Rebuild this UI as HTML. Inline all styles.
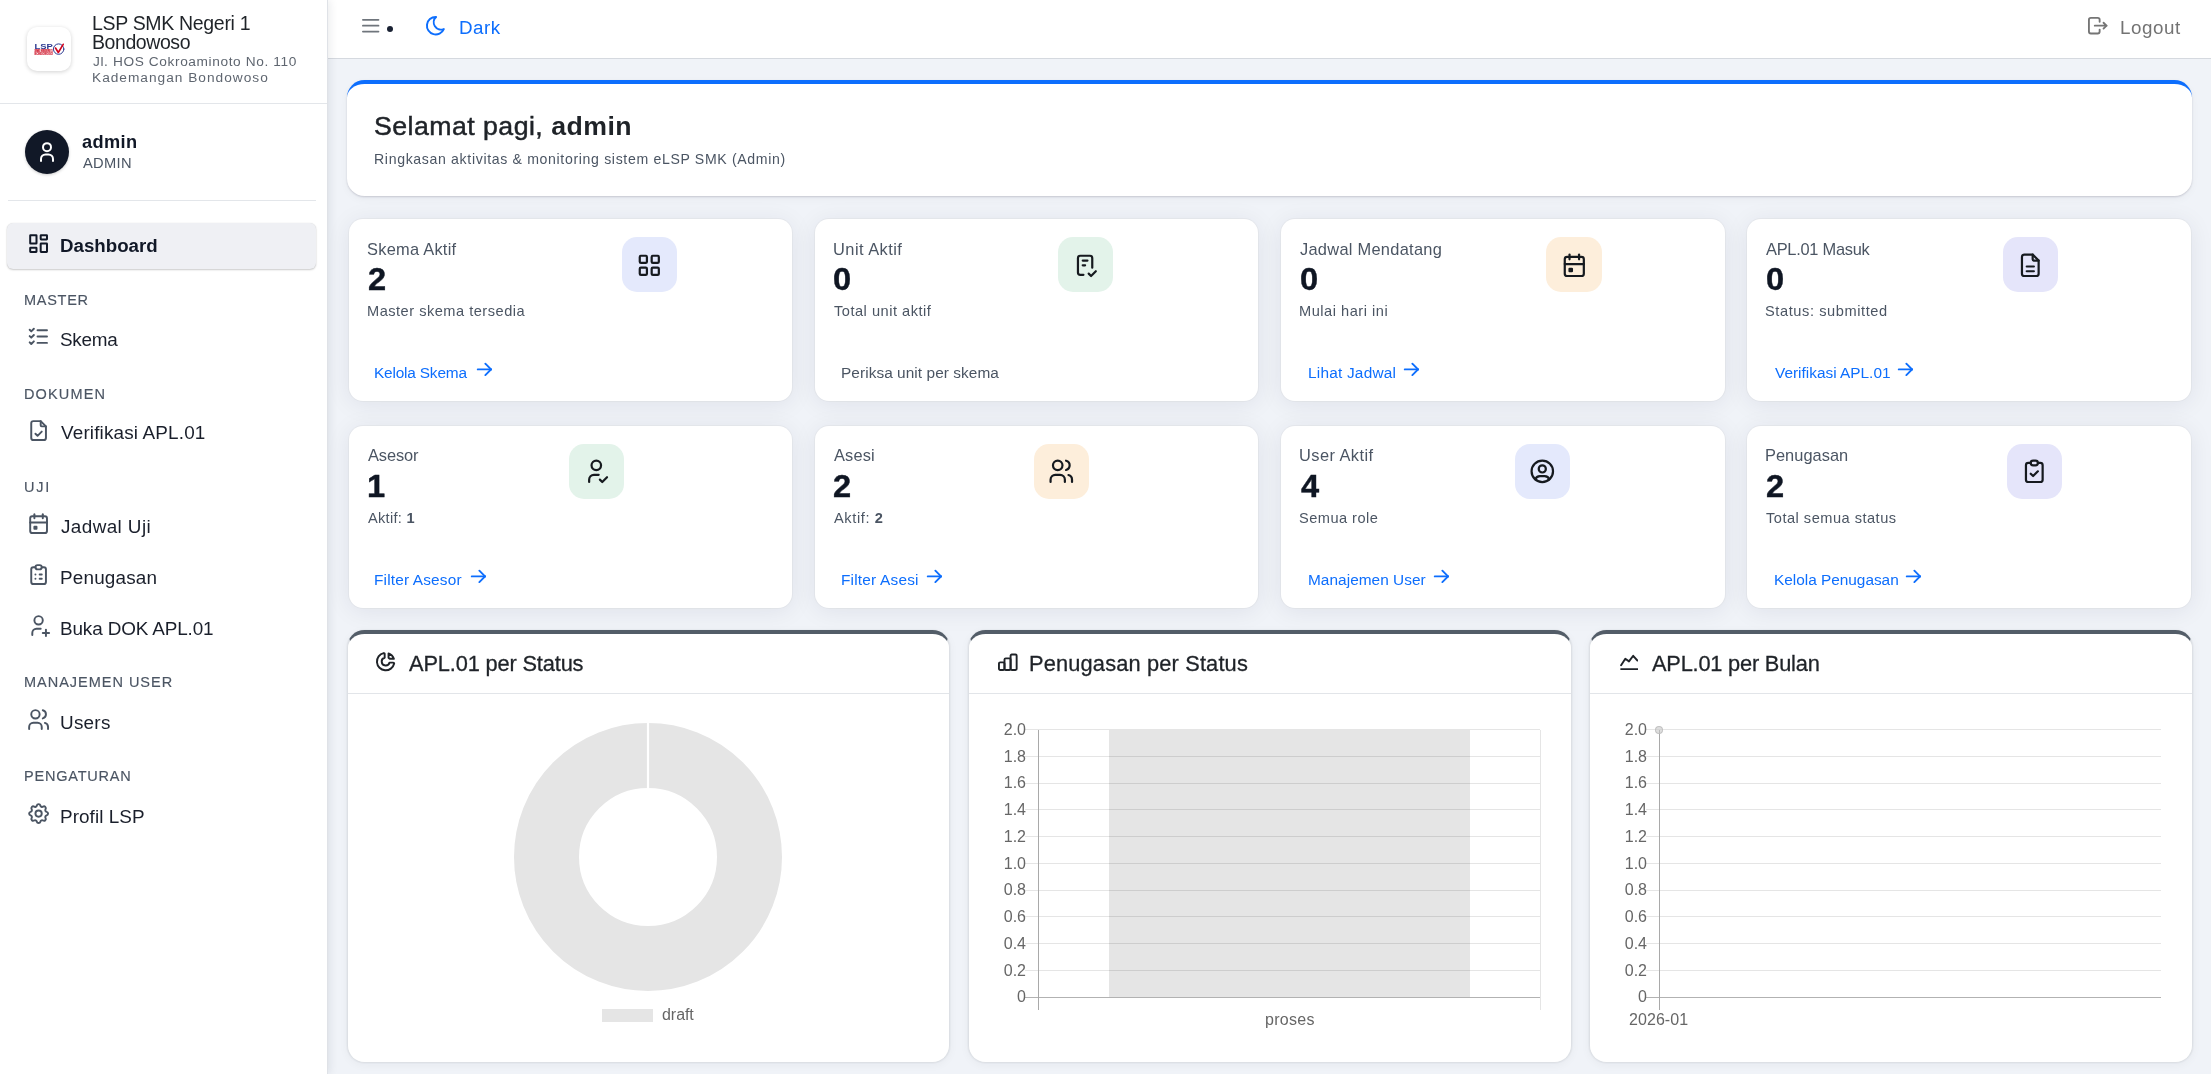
<!DOCTYPE html>
<html><head><meta charset="utf-8">
<style>
*{box-sizing:border-box;margin:0;padding:0}
html,body{width:2211px;height:1074px;overflow:hidden}
body{font-family:"Liberation Sans",sans-serif;background:#f0f3f8;position:relative;color:#1f2328}
.abs{position:absolute}
.t{position:absolute;white-space:nowrap;line-height:1;z-index:10;will-change:transform}
.card{position:absolute;background:#fff;box-shadow:0 2px 10px rgba(20,30,50,.045),0 0 0 1px rgba(20,30,50,.025)}
</style></head>
<body>
<div class="abs" style="left:0px;top:0px;width:328px;height:1074px;background:#fff;border-right:1px solid #dfe2e7;box-shadow:1px 0 9px rgba(20,30,50,.10);z-index:5"></div>
<div class="abs" style="left:327px;top:0px;width:1884px;height:59px;background:#fff;border-bottom:1px solid #d5d9df;z-index:2"></div>
<div class="abs" style="left:27px;top:27px;width:44px;height:44px;border-radius:10px;background:#fff;box-shadow:0 1px 4px rgba(0,0,0,.18);z-index:6"></div>
<svg class="abs" style="left:27.00px;top:27.00px;z-index:10;will-change:transform" width="44" height="44" viewBox="0 0 44 44" fill="none" stroke="#1f2328" stroke-width="1" stroke-linecap="round" stroke-linejoin="round" ><text x="7.5" y="21.6" font-family="Liberation Sans" font-weight="bold" font-size="6.6" fill="#2b3990" stroke="none" textLength="18.4" lengthAdjust="spacingAndGlyphs">LSP</text><text x="7.5" y="24.9" font-family="Liberation Sans" font-weight="bold" font-size="2.9" fill="#d22a3c" stroke="#d22a3c" stroke-width="0.25" textLength="18.2" lengthAdjust="spacingAndGlyphs">SMK NEGERI 1</text><text x="7.5" y="27.7" font-family="Liberation Sans" font-weight="bold" font-size="2.9" fill="#d43446" stroke="#d43446" stroke-width="0.2" textLength="18.2" lengthAdjust="spacingAndGlyphs">BONDOWOSO</text><circle cx="31.65" cy="22.1" r="5.2" stroke="#2b3990" stroke-width="1"/><path d="M28.5 21l2.8 4.5l4.9 -8.2" stroke="#d0021b" stroke-width="1.6"/></svg>
<div class="abs" style="left:0px;top:103px;width:327px;height:1px;background:#e3e6ea;z-index:6"></div>
<div class="abs" style="left:25px;top:130px;width:44px;height:44px;border-radius:50%;background:#111827;box-shadow:0 1px 3px rgba(0,0,0,.2);z-index:6"></div>
<svg class="abs" style="left:25.00px;top:130.00px;z-index:10" width="45" height="45" viewBox="0 0 45 45" fill="none" stroke="#fff" stroke-width="2" stroke-linecap="round" stroke-linejoin="round" ><circle cx="22" cy="17.15" r="4"/><path d="M16 31v-2a4.5 4.5 0 0 1 4.5 -4.5h3a4.5 4.5 0 0 1 4.5 4.5v2"/></svg>
<div class="abs" style="left:8px;top:200px;width:308px;height:1px;background:#e3e6ea;z-index:6"></div>
<div class="abs" style="left:7px;top:223px;width:309px;height:46px;border-radius:6px;background:#eff0f4;box-shadow:0 1px 2px rgba(0,0,0,.2),0 0 1px rgba(0,0,0,.12);z-index:6"></div>
<div id="Tb1" class="t" style="left:92.10px;top:13.79px;font-size:19.5px;color:#1f2328;font-weight:normal;letter-spacing:-0.319px;">LSP SMK Negeri 1</div>
<div id="Tb2" class="t" style="left:92.10px;top:32.99px;font-size:19.5px;color:#1f2328;font-weight:normal;letter-spacing:-0.425px;">Bondowoso</div>
<div id="Tb3" class="t" style="left:93.10px;top:54.90px;font-size:13.7px;color:#5f6670;font-weight:normal;letter-spacing:0.607px;">Jl. HOS Cokroaminoto No. 110</div>
<div id="Tb4" class="t" style="left:92.10px;top:70.50px;font-size:13.7px;color:#5f6670;font-weight:normal;letter-spacing:1.000px;">Kademangan Bondowoso</div>
<div id="Tu1" class="t" style="left:82.30px;top:132.59px;font-size:18.2px;color:#111827;font-weight:bold;letter-spacing:0.400px;">admin</div>
<div id="Tu2" class="t" style="left:82.90px;top:156.06px;font-size:14.7px;color:#4b5563;font-weight:normal;letter-spacing:0.300px;">ADMIN</div>
<div id="Tn0" class="t" style="left:60.00px;top:236.87px;font-size:18.7px;color:#111827;font-weight:bold;letter-spacing:0.004px;">Dashboard</div>
<svg class="abs" style="left:25.75px;top:230.60px;z-index:10" width="25.2" height="25.2" viewBox="0 0 24 24" fill="none" stroke="#111827" stroke-width="1.9" stroke-linecap="round" stroke-linejoin="round" ><rect x="4" y="4" width="6" height="8" rx="0.35"/><rect x="4" y="16" width="6" height="4" rx="0.35"/><rect x="14" y="12" width="6" height="8" rx="0.35"/><rect x="14" y="4" width="6" height="4" rx="0.35"/></svg>
<div id="Ts0" class="t" style="left:23.60px;top:292.63px;font-size:14.5px;color:#4b5563;font-weight:normal;letter-spacing:0.720px;-webkit-text-stroke:0.15px #4b5563">MASTER</div>
<div id="Tn2" class="t" style="left:59.90px;top:330.60px;font-size:18.9px;color:#1a1f2b;font-weight:normal;letter-spacing:-0.250px;">Skema</div>
<svg class="abs" style="left:25.75px;top:323.90px;z-index:10" width="25.2" height="25.2" viewBox="0 0 24 24" fill="none" stroke="#4b5563" stroke-width="1.85" stroke-linecap="round" stroke-linejoin="round" ><path d="M3.5 5.5l1.5 1.5l2.5 -2.5"/><path d="M3.5 11.5l1.5 1.5l2.5 -2.5"/><path d="M3.5 17.5l1.5 1.5l2.5 -2.5"/><path d="M11 6l9 0"/><path d="M11 12l9 0"/><path d="M11 18l9 0"/></svg>
<div id="Ts2" class="t" style="left:23.60px;top:387.23px;font-size:14.5px;color:#4b5563;font-weight:normal;letter-spacing:1.134px;-webkit-text-stroke:0.15px #4b5563">DOKUMEN</div>
<div id="Tn4" class="t" style="left:61.00px;top:424.40px;font-size:18.9px;color:#1a1f2b;font-weight:normal;letter-spacing:0.162px;">Verifikasi APL.01</div>
<svg class="abs" style="left:25.75px;top:417.70px;z-index:10" width="25.2" height="25.2" viewBox="0 0 24 24" fill="none" stroke="#4b5563" stroke-width="1.85" stroke-linecap="round" stroke-linejoin="round" ><path d="M14 3v4a1 1 0 0 0 1 1h4"/><path d="M17 21h-10a2 2 0 0 1 -2 -2v-14a2 2 0 0 1 2 -2h7l5 5v11a2 2 0 0 1 -2 2z"/><path d="M9 15l2 2l4 -4"/></svg>
<div id="Ts4" class="t" style="left:23.60px;top:480.43px;font-size:14.5px;color:#4b5563;font-weight:normal;letter-spacing:1.800px;-webkit-text-stroke:0.15px #4b5563">UJI</div>
<div id="Tn6" class="t" style="left:61.00px;top:517.70px;font-size:18.9px;color:#1a1f2b;font-weight:normal;letter-spacing:0.399px;">Jadwal Uji</div>
<svg class="abs" style="left:25.75px;top:511.00px;z-index:10" width="25.2" height="25.2" viewBox="0 0 24 24" fill="none" stroke="#4b5563" stroke-width="1.85" stroke-linecap="round" stroke-linejoin="round" ><path d="M4 7a2 2 0 0 1 2 -2h12a2 2 0 0 1 2 2v12a2 2 0 0 1 -2 2h-12a2 2 0 0 1 -2 -2z"/><path d="M16 3l0 4"/><path d="M8 3l0 4"/><path d="M4 11l16 0"/><path d="M8 15h2v2h-2z"/></svg>
<div id="Tn7" class="t" style="left:60.00px;top:569.00px;font-size:18.9px;color:#1a1f2b;font-weight:normal;letter-spacing:0.179px;">Penugasan</div>
<svg class="abs" style="left:25.75px;top:562.30px;z-index:10" width="25.2" height="25.2" viewBox="0 0 24 24" fill="none" stroke="#4b5563" stroke-width="1.85" stroke-linecap="round" stroke-linejoin="round" ><path d="M9 5h-2a2 2 0 0 0 -2 2v12a2 2 0 0 0 2 2h10a2 2 0 0 0 2 -2v-12a2 2 0 0 0 -2 -2h-2"/><path d="M9 5a2 2 0 0 1 2 -2h2a2 2 0 0 1 2 2v0a2 2 0 0 1 -2 2h-2a2 2 0 0 1 -2 -2z"/><path d="M9 12l.01 0"/><path d="M13 12l2 0"/><path d="M9 16l.01 0"/><path d="M13 16l2 0"/></svg>
<div id="Tn8" class="t" style="left:60.00px;top:620.00px;font-size:18.9px;color:#1a1f2b;font-weight:normal;letter-spacing:-0.128px;">Buka DOK APL.01</div>
<svg class="abs" style="left:25.75px;top:613.30px;z-index:10" width="25.2" height="25.2" viewBox="0 0 24 24" fill="none" stroke="#4b5563" stroke-width="1.85" stroke-linecap="round" stroke-linejoin="round" ><path d="M8 7a4 4 0 1 0 8 0a4 4 0 0 0 -8 0"/><path d="M16 19h6"/><path d="M19 16v6"/><path d="M6 21v-2a4 4 0 0 1 4 -4h4"/></svg>
<div id="Ts8" class="t" style="left:23.60px;top:674.93px;font-size:14.5px;color:#4b5563;font-weight:normal;letter-spacing:0.984px;-webkit-text-stroke:0.15px #4b5563">MANAJEMEN USER</div>
<div id="Tn10" class="t" style="left:60.00px;top:713.80px;font-size:18.9px;color:#1a1f2b;font-weight:normal;letter-spacing:0.250px;">Users</div>
<svg class="abs" style="left:25.75px;top:707.10px;z-index:10" width="25.2" height="25.2" viewBox="0 0 24 24" fill="none" stroke="#4b5563" stroke-width="1.85" stroke-linecap="round" stroke-linejoin="round" ><path d="M5 7a4 4 0 1 0 8 0a4 4 0 1 0 -8 0"/><path d="M3 21v-2a4 4 0 0 1 4 -4h4a4 4 0 0 1 4 4v2"/><path d="M16 3.13a4 4 0 0 1 0 7.75"/><path d="M21 21v-2a4 4 0 0 0 -3 -3.85"/></svg>
<div id="Ts10" class="t" style="left:23.60px;top:768.53px;font-size:14.5px;color:#4b5563;font-weight:normal;letter-spacing:0.798px;-webkit-text-stroke:0.15px #4b5563">PENGATURAN</div>
<div id="Tn12" class="t" style="left:60.00px;top:807.70px;font-size:18.9px;color:#1a1f2b;font-weight:normal;letter-spacing:0.065px;">Profil LSP</div>
<svg class="abs" style="left:25.75px;top:801.00px;z-index:10" width="25.2" height="25.2" viewBox="0 0 24 24" fill="none" stroke="#4b5563" stroke-width="1.85" stroke-linecap="round" stroke-linejoin="round" ><path d="M10.325 4.317c.426 -1.756 2.924 -1.756 3.35 0a1.724 1.724 0 0 0 2.573 1.066c1.543 -.94 3.31 .826 2.37 2.37a1.724 1.724 0 0 0 1.065 2.572c1.756 .426 1.756 2.924 0 3.35a1.724 1.724 0 0 0 -1.066 2.573c.94 1.543 -.826 3.31 -2.37 2.37a1.724 1.724 0 0 0 -2.572 1.065c-.426 1.756 -2.924 1.756 -3.35 0a1.724 1.724 0 0 0 -2.573 -1.066c-1.543 .94 -3.31 -.826 -2.37 -2.37a1.724 1.724 0 0 0 -1.065 -2.572c-1.756 -.426 -1.756 -2.924 0 -3.35a1.724 1.724 0 0 0 1.066 -2.573c-.94 -1.543 .826 -3.31 2.37 -2.37c1 .608 2.296 .07 2.572 -1.065z"/><path d="M9 12a3 3 0 1 0 6 0a3 3 0 0 0 -6 0"/></svg>
<svg class="abs" style="left:359.00px;top:13.65px;z-index:10" width="23.4" height="23.4" viewBox="0 0 24 24" fill="none" stroke="#6f757c" stroke-width="1.8" stroke-linecap="round" stroke-linejoin="round" ><path d="M4 6l16 0"/><path d="M4 12l16 0"/><path d="M4 18l16 0"/></svg>
<div class="abs" style="left:386.8px;top:25.6px;width:6px;height:6px;border-radius:50%;background:#1a2233;z-index:3"></div>
<svg class="abs" style="left:424.45px;top:13.75px;z-index:10" width="23.4" height="23.4" viewBox="0 0 24 24" fill="none" stroke="#0d6efd" stroke-width="2" stroke-linecap="round" stroke-linejoin="round" ><path d="M12 3c.132 0 .263 0 .393 0a7.5 7.5 0 0 0 7.92 12.446a9 9 0 1 1 -8.313 -12.454z"/></svg>
<div id="Th1" class="t" style="left:458.50px;top:19.09px;font-size:18.8px;color:#0d6efd;font-weight:normal;letter-spacing:0.466px;">Dark</div>
<svg class="abs" style="left:2086.35px;top:13.90px;z-index:10" width="23.4" height="23.4" viewBox="0 0 24 24" fill="none" stroke="#757575" stroke-width="1.9" stroke-linecap="round" stroke-linejoin="round" ><path d="M14 8v-2a2 2 0 0 0 -2 -2h-7a2 2 0 0 0 -2 2v12a2 2 0 0 0 2 2h7a2 2 0 0 0 2 -2v-2"/><path d="M9 12h12l-3 -3"/><path d="M18 15l3 -3"/></svg>
<div id="Th2" class="t" style="left:2120.30px;top:19.09px;font-size:18.8px;color:#737373;font-weight:normal;letter-spacing:0.560px;">Logout</div>
<div class="card" style="left:346.7px;top:80px;width:1845.3px;height:116.3px;border-radius:17.5px;border-top:4px solid #0d6efd;box-shadow:0 1px 2px rgba(20,10,40,.16),0 3px 8px rgba(20,30,50,.04)"></div>
<div id="Tw1" class="t" style="left:374.10px;top:113.20px;font-size:26.7px;color:#1f2328;font-weight:normal;letter-spacing:0.466px;"><span style="-webkit-text-stroke:0.5px #1f2328">Selamat pagi,</span> <b>admin</b></div>
<div id="Tw2" class="t" style="left:374.10px;top:151.96px;font-size:14.1px;color:#4b5563;font-weight:normal;letter-spacing:0.660px;">Ringkasan aktivitas &amp; monitoring sistem eLSP SMK (Admin)</div>
<div class="card" style="left:348.5px;top:218.8px;width:443.6px;height:182.3px;border-radius:14px;box-shadow:0 0 0 1px rgba(120,110,90,.05),0 3px 24px rgba(20,30,60,.08)"></div>
<div id="Tc0a" class="t" style="left:367.20px;top:240.52px;font-size:16.4px;color:#4b5563;font-weight:normal;letter-spacing:0.260px;">Skema Aktif</div>
<div id="Tc0b" class="t" style="left:367.70px;top:263.88px;font-size:30.5px;color:#0f1623;font-weight:bold;letter-spacing:0.000px;transform:scaleX(1.07);transform-origin:0 0;-webkit-text-stroke:0.4px #0f1623">2</div>
<div id="Tc0c" class="t" style="left:367.20px;top:304.34px;font-size:14.6px;color:#4b5563;font-weight:normal;letter-spacing:0.500px;">Master skema tersedia</div>
<div id="Tc0d" class="t" style="left:374.30px;top:365.16px;font-size:15.4px;color:#0d6efd;font-weight:normal;letter-spacing:-0.182px;">Kelola Skema</div>
<svg class="abs" style="left:473.00px;top:357.70px;z-index:10" width="22.8" height="22.8" viewBox="0 0 24 24" fill="none" stroke="#0d6efd" stroke-width="2" stroke-linecap="round" stroke-linejoin="round" ><path d="M5 12l14 0"/><path d="M13 18l6 -6"/><path d="M13 6l6 6"/></svg>
<div class="abs" style="left:621.7px;top:237.10000000000002px;width:55.4px;height:55.4px;border-radius:15px;background:#e4e9fc"></div>
<svg class="abs" style="left:635.10px;top:250.50px;z-index:10" width="28.6" height="28.6" viewBox="0 0 24 24" fill="none" stroke="#161a1f" stroke-width="1.85" stroke-linecap="round" stroke-linejoin="round" ><path d="M4 5a1 1 0 0 1 1 -1h4a1 1 0 0 1 1 1v4a1 1 0 0 1 -1 1h-4a1 1 0 0 1 -1 -1z"/><path d="M14 5a1 1 0 0 1 1 -1h4a1 1 0 0 1 1 1v4a1 1 0 0 1 -1 1h-4a1 1 0 0 1 -1 -1z"/><path d="M4 15a1 1 0 0 1 1 -1h4a1 1 0 0 1 1 1v4a1 1 0 0 1 -1 1h-4a1 1 0 0 1 -1 -1z"/><path d="M14 15a1 1 0 0 1 1 -1h4a1 1 0 0 1 1 1v4a1 1 0 0 1 -1 1h-4a1 1 0 0 1 -1 -1z"/></svg>
<div class="card" style="left:814.8px;top:218.8px;width:443.6px;height:182.3px;border-radius:14px;box-shadow:0 0 0 1px rgba(120,110,90,.05),0 3px 24px rgba(20,30,60,.08)"></div>
<div id="Tc1a" class="t" style="left:832.90px;top:240.52px;font-size:16.4px;color:#4b5563;font-weight:normal;letter-spacing:0.467px;">Unit Aktif</div>
<div id="Tc1b" class="t" style="left:833.40px;top:263.88px;font-size:30.5px;color:#0f1623;font-weight:bold;letter-spacing:0.000px;transform:scaleX(1.07);transform-origin:0 0;-webkit-text-stroke:0.4px #0f1623">0</div>
<div id="Tc1c" class="t" style="left:833.90px;top:304.34px;font-size:14.6px;color:#4b5563;font-weight:normal;letter-spacing:0.505px;">Total unit aktif</div>
<div id="Tc1d" class="t" style="left:841.00px;top:365.16px;font-size:15.4px;color:#4b5563;font-weight:normal;letter-spacing:0.066px;">Periksa unit per skema</div>
<div class="abs" style="left:1058.1px;top:237.10000000000002px;width:55.4px;height:55.4px;border-radius:15px;background:#e3f3ea"></div>
<svg class="abs" style="left:1071.50px;top:250.50px;z-index:10" width="28.6" height="28.6" viewBox="0 0 24 24" fill="none" stroke="#161a1f" stroke-width="1.85" stroke-linecap="round" stroke-linejoin="round" ><path d="M9.615 20h-2.615a2 2 0 0 1 -2 -2v-12a2 2 0 0 1 2 -2h8a2 2 0 0 1 2 2v8"/><path d="M14 19l2 2l4 -4"/><path d="M9 8h4"/><path d="M9 12h2"/></svg>
<div class="card" style="left:1281.3px;top:218.8px;width:443.6px;height:182.3px;border-radius:14px;box-shadow:0 0 0 1px rgba(120,110,90,.05),0 3px 24px rgba(20,30,60,.08)"></div>
<div id="Tc2a" class="t" style="left:1300.40px;top:240.52px;font-size:16.4px;color:#4b5563;font-weight:normal;letter-spacing:0.280px;">Jadwal Mendatang</div>
<div id="Tc2b" class="t" style="left:1299.90px;top:263.88px;font-size:30.5px;color:#0f1623;font-weight:bold;letter-spacing:0.000px;transform:scaleX(1.07);transform-origin:0 0;-webkit-text-stroke:0.4px #0f1623">0</div>
<div id="Tc2c" class="t" style="left:1299.40px;top:304.34px;font-size:14.6px;color:#4b5563;font-weight:normal;letter-spacing:0.522px;">Mulai hari ini</div>
<div id="Tc2d" class="t" style="left:1307.50px;top:365.16px;font-size:15.4px;color:#0d6efd;font-weight:normal;letter-spacing:0.216px;">Lihat Jadwal</div>
<svg class="abs" style="left:1399.60px;top:357.70px;z-index:10" width="22.8" height="22.8" viewBox="0 0 24 24" fill="none" stroke="#0d6efd" stroke-width="2" stroke-linecap="round" stroke-linejoin="round" ><path d="M5 12l14 0"/><path d="M13 18l6 -6"/><path d="M13 6l6 6"/></svg>
<div class="abs" style="left:1546.3px;top:237.10000000000002px;width:55.4px;height:55.4px;border-radius:15px;background:#fdeedb"></div>
<svg class="abs" style="left:1559.70px;top:250.50px;z-index:10" width="28.6" height="28.6" viewBox="0 0 24 24" fill="none" stroke="#161a1f" stroke-width="1.85" stroke-linecap="round" stroke-linejoin="round" ><path d="M4 7a2 2 0 0 1 2 -2h12a2 2 0 0 1 2 2v12a2 2 0 0 1 -2 2h-12a2 2 0 0 1 -2 -2z"/><path d="M16 3l0 4"/><path d="M8 3l0 4"/><path d="M4 11l16 0"/><path d="M8 15h2v2h-2z"/></svg>
<div class="card" style="left:1747.3px;top:218.8px;width:443.6px;height:182.3px;border-radius:14px;box-shadow:0 0 0 1px rgba(120,110,90,.05),0 3px 24px rgba(20,30,60,.08)"></div>
<div id="Tc3a" class="t" style="left:1766.40px;top:240.52px;font-size:16.4px;color:#4b5563;font-weight:normal;letter-spacing:-0.257px;">APL.01 Masuk</div>
<div id="Tc3b" class="t" style="left:1765.90px;top:263.88px;font-size:30.5px;color:#0f1623;font-weight:bold;letter-spacing:0.000px;transform:scaleX(1.07);transform-origin:0 0;-webkit-text-stroke:0.4px #0f1623">0</div>
<div id="Tc3c" class="t" style="left:1765.40px;top:304.34px;font-size:14.6px;color:#4b5563;font-weight:normal;letter-spacing:0.588px;">Status: submitted</div>
<div id="Tc3d" class="t" style="left:1774.50px;top:365.16px;font-size:15.4px;color:#0d6efd;font-weight:normal;letter-spacing:0.000px;">Verifikasi APL.01</div>
<svg class="abs" style="left:1893.80px;top:357.70px;z-index:10" width="22.8" height="22.8" viewBox="0 0 24 24" fill="none" stroke="#0d6efd" stroke-width="2" stroke-linecap="round" stroke-linejoin="round" ><path d="M5 12l14 0"/><path d="M13 18l6 -6"/><path d="M13 6l6 6"/></svg>
<div class="abs" style="left:2002.8px;top:237.10000000000002px;width:55.4px;height:55.4px;border-radius:15px;background:#e5e5fa"></div>
<svg class="abs" style="left:2016.20px;top:250.50px;z-index:10" width="28.6" height="28.6" viewBox="0 0 24 24" fill="none" stroke="#161a1f" stroke-width="1.85" stroke-linecap="round" stroke-linejoin="round" ><path d="M14 3v4a1 1 0 0 0 1 1h4"/><path d="M17 21h-10a2 2 0 0 1 -2 -2v-14a2 2 0 0 1 2 -2h7l5 5v11a2 2 0 0 1 -2 2z"/><path d="M9 13l6 0"/><path d="M9 17l6 0"/></svg>
<div class="card" style="left:348.5px;top:425.6px;width:443.6px;height:182.3px;border-radius:14px;box-shadow:0 0 0 1px rgba(120,110,90,.05),0 3px 24px rgba(20,30,60,.08)"></div>
<div id="Tc4a" class="t" style="left:368.20px;top:447.32px;font-size:16.4px;color:#4b5563;font-weight:normal;letter-spacing:-0.120px;">Asesor</div>
<div id="Tc4b" class="t" style="left:366.70px;top:470.68px;font-size:30.5px;color:#0f1623;font-weight:bold;letter-spacing:0.000px;transform:scaleX(1.07);transform-origin:0 0;-webkit-text-stroke:0.4px #0f1623">1</div>
<div id="Tc4c" class="t" style="left:368.20px;top:511.14px;font-size:14.6px;color:#4b5563;font-weight:normal;letter-spacing:0.286px;">Aktif: <b>1</b></div>
<div id="Tc4d" class="t" style="left:374.30px;top:571.96px;font-size:15.4px;color:#0d6efd;font-weight:normal;letter-spacing:0.167px;">Filter Asesor</div>
<svg class="abs" style="left:467.00px;top:564.50px;z-index:10" width="22.8" height="22.8" viewBox="0 0 24 24" fill="none" stroke="#0d6efd" stroke-width="2" stroke-linecap="round" stroke-linejoin="round" ><path d="M5 12l14 0"/><path d="M13 18l6 -6"/><path d="M13 6l6 6"/></svg>
<div class="abs" style="left:568.8px;top:443.90000000000003px;width:55.4px;height:55.4px;border-radius:15px;background:#e3f3ea"></div>
<svg class="abs" style="left:582.20px;top:457.30px;z-index:10" width="28.6" height="28.6" viewBox="0 0 24 24" fill="none" stroke="#161a1f" stroke-width="1.85" stroke-linecap="round" stroke-linejoin="round" ><path d="M8 7a4 4 0 1 0 8 0a4 4 0 0 0 -8 0"/><path d="M6 21v-2a4 4 0 0 1 4 -4h4"/><path d="M15 19l2 2l4 -4"/></svg>
<div class="card" style="left:814.8px;top:425.6px;width:443.6px;height:182.3px;border-radius:14px;box-shadow:0 0 0 1px rgba(120,110,90,.05),0 3px 24px rgba(20,30,60,.08)"></div>
<div id="Tc5a" class="t" style="left:833.90px;top:447.32px;font-size:16.4px;color:#4b5563;font-weight:normal;letter-spacing:0.150px;">Asesi</div>
<div id="Tc5b" class="t" style="left:833.40px;top:470.68px;font-size:30.5px;color:#0f1623;font-weight:bold;letter-spacing:0.000px;transform:scaleX(1.07);transform-origin:0 0;-webkit-text-stroke:0.4px #0f1623">2</div>
<div id="Tc5c" class="t" style="left:833.90px;top:511.14px;font-size:14.6px;color:#4b5563;font-weight:normal;letter-spacing:0.599px;">Aktif: <b>2</b></div>
<div id="Tc5d" class="t" style="left:841.00px;top:571.96px;font-size:15.4px;color:#0d6efd;font-weight:normal;letter-spacing:0.201px;">Filter Asesi</div>
<svg class="abs" style="left:923.10px;top:564.50px;z-index:10" width="22.8" height="22.8" viewBox="0 0 24 24" fill="none" stroke="#0d6efd" stroke-width="2" stroke-linecap="round" stroke-linejoin="round" ><path d="M5 12l14 0"/><path d="M13 18l6 -6"/><path d="M13 6l6 6"/></svg>
<div class="abs" style="left:1034.0px;top:443.90000000000003px;width:55.4px;height:55.4px;border-radius:15px;background:#fdeedb"></div>
<svg class="abs" style="left:1047.40px;top:457.30px;z-index:10" width="28.6" height="28.6" viewBox="0 0 24 24" fill="none" stroke="#161a1f" stroke-width="1.85" stroke-linecap="round" stroke-linejoin="round" ><path d="M5 7a4 4 0 1 0 8 0a4 4 0 1 0 -8 0"/><path d="M3 21v-2a4 4 0 0 1 4 -4h4a4 4 0 0 1 4 4v2"/><path d="M16 3.13a4 4 0 0 1 0 7.75"/><path d="M21 21v-2a4 4 0 0 0 -3 -3.85"/></svg>
<div class="card" style="left:1281.3px;top:425.6px;width:443.6px;height:182.3px;border-radius:14px;box-shadow:0 0 0 1px rgba(120,110,90,.05),0 3px 24px rgba(20,30,60,.08)"></div>
<div id="Tc6a" class="t" style="left:1299.40px;top:447.32px;font-size:16.4px;color:#4b5563;font-weight:normal;letter-spacing:0.444px;">User Aktif</div>
<div id="Tc6b" class="t" style="left:1300.90px;top:470.68px;font-size:30.5px;color:#0f1623;font-weight:bold;letter-spacing:0.000px;transform:scaleX(1.07);transform-origin:0 0;-webkit-text-stroke:0.4px #0f1623">4</div>
<div id="Tc6c" class="t" style="left:1299.40px;top:511.14px;font-size:14.6px;color:#4b5563;font-weight:normal;letter-spacing:0.467px;">Semua role</div>
<div id="Tc6d" class="t" style="left:1307.50px;top:571.96px;font-size:15.4px;color:#0d6efd;font-weight:normal;letter-spacing:0.043px;">Manajemen User</div>
<svg class="abs" style="left:1430.00px;top:564.50px;z-index:10" width="22.8" height="22.8" viewBox="0 0 24 24" fill="none" stroke="#0d6efd" stroke-width="2" stroke-linecap="round" stroke-linejoin="round" ><path d="M5 12l14 0"/><path d="M13 18l6 -6"/><path d="M13 6l6 6"/></svg>
<div class="abs" style="left:1514.8999999999999px;top:443.90000000000003px;width:55.4px;height:55.4px;border-radius:15px;background:#e4e9fc"></div>
<svg class="abs" style="left:1528.30px;top:457.30px;z-index:10" width="28.6" height="28.6" viewBox="0 0 24 24" fill="none" stroke="#161a1f" stroke-width="1.85" stroke-linecap="round" stroke-linejoin="round" ><path d="M3 12a9 9 0 1 0 18 0a9 9 0 1 0 -18 0"/><path d="M9 10a3 3 0 1 0 6 0a3 3 0 1 0 -6 0"/><path d="M6.168 18.849a4 4 0 0 1 3.832 -2.849h4a4 4 0 0 1 3.834 2.855"/></svg>
<div class="card" style="left:1747.3px;top:425.6px;width:443.6px;height:182.3px;border-radius:14px;box-shadow:0 0 0 1px rgba(120,110,90,.05),0 3px 24px rgba(20,30,60,.08)"></div>
<div id="Tc7a" class="t" style="left:1765.40px;top:447.32px;font-size:16.4px;color:#4b5563;font-weight:normal;letter-spacing:0.029px;">Penugasan</div>
<div id="Tc7b" class="t" style="left:1765.90px;top:470.68px;font-size:30.5px;color:#0f1623;font-weight:bold;letter-spacing:0.000px;transform:scaleX(1.07);transform-origin:0 0;-webkit-text-stroke:0.4px #0f1623">2</div>
<div id="Tc7c" class="t" style="left:1766.40px;top:511.14px;font-size:14.6px;color:#4b5563;font-weight:normal;letter-spacing:0.493px;">Total semua status</div>
<div id="Tc7d" class="t" style="left:1773.50px;top:571.96px;font-size:15.4px;color:#0d6efd;font-weight:normal;letter-spacing:-0.015px;">Kelola Penugasan</div>
<svg class="abs" style="left:1901.90px;top:564.50px;z-index:10" width="22.8" height="22.8" viewBox="0 0 24 24" fill="none" stroke="#0d6efd" stroke-width="2" stroke-linecap="round" stroke-linejoin="round" ><path d="M5 12l14 0"/><path d="M13 18l6 -6"/><path d="M13 6l6 6"/></svg>
<div class="abs" style="left:2007.0px;top:443.90000000000003px;width:55.4px;height:55.4px;border-radius:15px;background:#e5e5fa"></div>
<svg class="abs" style="left:2020.40px;top:457.30px;z-index:10" width="28.6" height="28.6" viewBox="0 0 24 24" fill="none" stroke="#161a1f" stroke-width="1.85" stroke-linecap="round" stroke-linejoin="round" ><path d="M9 5h-2a2 2 0 0 0 -2 2v12a2 2 0 0 0 2 2h10a2 2 0 0 0 2 -2v-12a2 2 0 0 0 -2 -2h-2"/><path d="M9 5a2 2 0 0 1 2 -2h2a2 2 0 0 1 2 2v0a2 2 0 0 1 -2 2h-2a2 2 0 0 1 -2 -2z"/><path d="M9 14l2 2l4 -4"/></svg>
<div class="card" style="left:346.8px;top:630px;width:603.7px;height:433px;border-radius:17.5px;border:1px solid #dde0e5;border-top:4px solid #535d68"></div>
<div class="abs" style="left:347.8px;top:692.5px;width:601.7px;height:1px;background:#e2e5e9"></div>
<div id="Tk0" class="t" style="left:409.40px;top:652.85px;font-size:21.8px;color:#1f2328;font-weight:normal;letter-spacing:-0.150px;-webkit-text-stroke:0.3px #1f2328">APL.01 per Status</div>
<div class="card" style="left:968.0px;top:630px;width:603.7px;height:433px;border-radius:17.5px;border:1px solid #dde0e5;border-top:4px solid #535d68"></div>
<div class="abs" style="left:969.0px;top:692.5px;width:601.7px;height:1px;background:#e2e5e9"></div>
<div id="Tk1" class="t" style="left:1029.30px;top:652.85px;font-size:21.8px;color:#1f2328;font-weight:normal;letter-spacing:0.163px;-webkit-text-stroke:0.3px #1f2328">Penugasan per Status</div>
<div class="card" style="left:1589.4px;top:630px;width:603.7px;height:433px;border-radius:17.5px;border:1px solid #dde0e5;border-top:4px solid #535d68"></div>
<div class="abs" style="left:1590.4px;top:692.5px;width:601.7px;height:1px;background:#e2e5e9"></div>
<div id="Tk2" class="t" style="left:1651.50px;top:652.85px;font-size:21.8px;color:#1f2328;font-weight:normal;letter-spacing:-0.207px;-webkit-text-stroke:0.3px #1f2328">APL.01 per Bulan</div>
<svg class="abs" style="left:373.90px;top:650.40px;z-index:10" width="24" height="24" viewBox="0 0 24 24" fill="none" stroke="#1f2328" stroke-width="2" stroke-linecap="round" stroke-linejoin="round" ><g transform="scale(0.97)"><path d="M10 3.2a9 9 0 1 0 10.8 10.8a1 1 0 0 0 -1 -1h-3.8a4.1 4.1 0 1 1 -5 -5v-4a.9 .9 0 0 0 -1 -.8"/><path d="M15 3.5a9 9 0 0 1 5.5 5.5h-4.5a9 9 0 0 0 -1 -1v-4.5"/></g></svg>
<svg class="abs" style="left:997.60px;top:652.80px;z-index:10" width="20" height="19" viewBox="0 0 20 19" fill="none" stroke="#1f2328" stroke-width="1.9" stroke-linecap="round" stroke-linejoin="round" ><rect x="0.95" y="9.35" width="5.55" height="7.6" rx="1.2"/><rect x="6.5" y="5.35" width="6.1" height="11.6" rx="1.2"/><rect x="12.6" y="1.45" width="6.05" height="15.5" rx="1.2"/></svg>
<svg class="abs" style="left:1619.70px;top:653.80px;z-index:10" width="18.5" height="17" viewBox="0 0 18.5 17" fill="none" stroke="#1f2328" stroke-width="1.9" stroke-linecap="round" stroke-linejoin="round" ><path d="M1.1 11.3l4.2 -6.5l3.7 2.6l4.2 -5.6l4.2 4.7"/><path d="M1.1 15.1h16.3"/></svg>
<svg class="abs" style="left:513px;top:722px;z-index:8" width="270" height="270" viewBox="0 0 270 270"><circle cx="135" cy="135" r="101.5" fill="none" stroke="#e5e5e5" stroke-width="65"/><line x1="135" y1="0" x2="135" y2="67" stroke="#fff" stroke-width="2.2"/></svg>
<div class="abs" style="left:602.4px;top:1009.2px;width:50.4px;height:12.5px;background:#e5e5e5;z-index:8"></div>
<div id="Tl0" class="t" style="left:662.30px;top:1007.36px;font-size:16px;color:#666;font-weight:normal;letter-spacing:-0.050px;">draft</div>
<div class="abs" style="left:1108.7px;top:729.6px;width:361.29999999999995px;height:267.6px;background:rgba(0,0,0,.1);z-index:8"></div>
<div class="abs" style="left:1025.2px;top:729.1px;width:515.3px;height:1px;background:rgba(0,0,0,.1);z-index:8"></div>
<div class="t" style="left:965.5999999999999px;width:60px;text-align:right;top:721.81px;font-size:16px;color:#666">2.0</div>
<div class="abs" style="left:1025.2px;top:755.86px;width:515.3px;height:1px;background:rgba(0,0,0,.1);z-index:8"></div>
<div class="t" style="left:965.5999999999999px;width:60px;text-align:right;top:748.57px;font-size:16px;color:#666">1.8</div>
<div class="abs" style="left:1025.2px;top:782.62px;width:515.3px;height:1px;background:rgba(0,0,0,.1);z-index:8"></div>
<div class="t" style="left:965.5999999999999px;width:60px;text-align:right;top:775.33px;font-size:16px;color:#666">1.6</div>
<div class="abs" style="left:1025.2px;top:809.38px;width:515.3px;height:1px;background:rgba(0,0,0,.1);z-index:8"></div>
<div class="t" style="left:965.5999999999999px;width:60px;text-align:right;top:802.09px;font-size:16px;color:#666">1.4</div>
<div class="abs" style="left:1025.2px;top:836.14px;width:515.3px;height:1px;background:rgba(0,0,0,.1);z-index:8"></div>
<div class="t" style="left:965.5999999999999px;width:60px;text-align:right;top:828.85px;font-size:16px;color:#666">1.2</div>
<div class="abs" style="left:1025.2px;top:862.9px;width:515.3px;height:1px;background:rgba(0,0,0,.1);z-index:8"></div>
<div class="t" style="left:965.5999999999999px;width:60px;text-align:right;top:855.61px;font-size:16px;color:#666">1.0</div>
<div class="abs" style="left:1025.2px;top:889.66px;width:515.3px;height:1px;background:rgba(0,0,0,.1);z-index:8"></div>
<div class="t" style="left:965.5999999999999px;width:60px;text-align:right;top:882.37px;font-size:16px;color:#666">0.8</div>
<div class="abs" style="left:1025.2px;top:916.42px;width:515.3px;height:1px;background:rgba(0,0,0,.1);z-index:8"></div>
<div class="t" style="left:965.5999999999999px;width:60px;text-align:right;top:909.13px;font-size:16px;color:#666">0.6</div>
<div class="abs" style="left:1025.2px;top:943.18px;width:515.3px;height:1px;background:rgba(0,0,0,.1);z-index:8"></div>
<div class="t" style="left:965.5999999999999px;width:60px;text-align:right;top:935.89px;font-size:16px;color:#666">0.4</div>
<div class="abs" style="left:1025.2px;top:969.94px;width:515.3px;height:1px;background:rgba(0,0,0,.1);z-index:8"></div>
<div class="t" style="left:965.5999999999999px;width:60px;text-align:right;top:962.65px;font-size:16px;color:#666">0.2</div>
<div class="abs" style="left:1025.2px;top:996.7px;width:515.3px;height:1.5px;background:rgba(0,0,0,.3);z-index:8"></div>
<div class="t" style="left:965.5999999999999px;width:60px;text-align:right;top:989.41px;font-size:16px;color:#666">0</div>
<div class="abs" style="left:1037.9px;top:729.6px;width:1px;height:280.29999999999995px;background:#a9a9a9;z-index:9"></div>
<div class="abs" style="left:1540.0px;top:729.6px;width:1px;height:280.29999999999995px;background:#e5e5e5;z-index:8"></div>
<div id="Tx1" class="t" style="left:1264.80px;top:1011.66px;font-size:16px;color:#666;font-weight:normal;letter-spacing:0.280px;">proses</div>
<div class="abs" style="left:1646px;top:729.1px;width:515.3000000000002px;height:1px;background:rgba(0,0,0,.1);z-index:8"></div>
<div class="t" style="left:1586.8px;width:60px;text-align:right;top:721.81px;font-size:16px;color:#666">2.0</div>
<div class="abs" style="left:1646px;top:755.86px;width:515.3000000000002px;height:1px;background:rgba(0,0,0,.1);z-index:8"></div>
<div class="t" style="left:1586.8px;width:60px;text-align:right;top:748.57px;font-size:16px;color:#666">1.8</div>
<div class="abs" style="left:1646px;top:782.62px;width:515.3000000000002px;height:1px;background:rgba(0,0,0,.1);z-index:8"></div>
<div class="t" style="left:1586.8px;width:60px;text-align:right;top:775.33px;font-size:16px;color:#666">1.6</div>
<div class="abs" style="left:1646px;top:809.38px;width:515.3000000000002px;height:1px;background:rgba(0,0,0,.1);z-index:8"></div>
<div class="t" style="left:1586.8px;width:60px;text-align:right;top:802.09px;font-size:16px;color:#666">1.4</div>
<div class="abs" style="left:1646px;top:836.14px;width:515.3000000000002px;height:1px;background:rgba(0,0,0,.1);z-index:8"></div>
<div class="t" style="left:1586.8px;width:60px;text-align:right;top:828.85px;font-size:16px;color:#666">1.2</div>
<div class="abs" style="left:1646px;top:862.9px;width:515.3000000000002px;height:1px;background:rgba(0,0,0,.1);z-index:8"></div>
<div class="t" style="left:1586.8px;width:60px;text-align:right;top:855.61px;font-size:16px;color:#666">1.0</div>
<div class="abs" style="left:1646px;top:889.66px;width:515.3000000000002px;height:1px;background:rgba(0,0,0,.1);z-index:8"></div>
<div class="t" style="left:1586.8px;width:60px;text-align:right;top:882.37px;font-size:16px;color:#666">0.8</div>
<div class="abs" style="left:1646px;top:916.42px;width:515.3000000000002px;height:1px;background:rgba(0,0,0,.1);z-index:8"></div>
<div class="t" style="left:1586.8px;width:60px;text-align:right;top:909.13px;font-size:16px;color:#666">0.6</div>
<div class="abs" style="left:1646px;top:943.18px;width:515.3000000000002px;height:1px;background:rgba(0,0,0,.1);z-index:8"></div>
<div class="t" style="left:1586.8px;width:60px;text-align:right;top:935.89px;font-size:16px;color:#666">0.4</div>
<div class="abs" style="left:1646px;top:969.94px;width:515.3000000000002px;height:1px;background:rgba(0,0,0,.1);z-index:8"></div>
<div class="t" style="left:1586.8px;width:60px;text-align:right;top:962.65px;font-size:16px;color:#666">0.2</div>
<div class="abs" style="left:1646px;top:996.7px;width:515.3000000000002px;height:1.5px;background:rgba(0,0,0,.3);z-index:8"></div>
<div class="t" style="left:1586.8px;width:60px;text-align:right;top:989.41px;font-size:16px;color:#666">0</div>
<div class="abs" style="left:1658.8px;top:729.6px;width:1px;height:280.29999999999995px;background:#a9a9a9;z-index:9"></div>
<div id="Tx2" class="t" style="left:1629.00px;top:1011.66px;font-size:16px;color:#666;font-weight:normal;letter-spacing:0.065px;">2026-01</div>
<div class="abs" style="left:1655.3px;top:725.6px;width:8px;height:8px;border-radius:50%;background:rgba(200,200,200,.6);border:1px solid rgba(190,190,190,.9);z-index:9"></div>
</body></html>
